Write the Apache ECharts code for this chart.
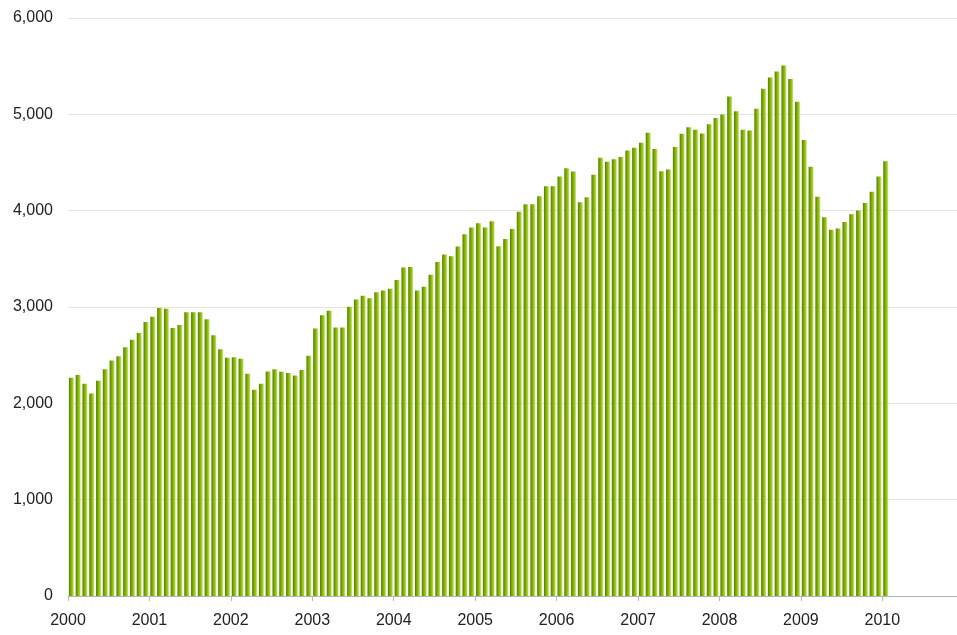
<!DOCTYPE html>
<html>
<head>
<meta charset="utf-8">
<script src="https://cdn.jsdelivr.net/npm/echarts@6/dist/echarts.min.js"></script>
<style>
  html, body { margin: 0; padding: 0; background: #fff; }
  #chart { width: 957px; height: 635px; }
</style>
</head>
<body>
<div id="chart"></div>
<script>
// year labels, one every 12 months starting Jan 2000
const years = ['2000', '2001', '2002', '2003', '2004', '2005', '2006', '2007', '2008', '2009', '2010'];

// monthly values, Jan 2000 .. Jan 2010
const values2000 = [2266, 2293, 2203, 2103, 2234, 2355, 2445, 2490, 2583, 2659, 2731, 2845];
const values2001 = [2900, 2990, 2983, 2783, 2814, 2945, 2945, 2945, 2872, 2707, 2562, 2472];
const values2002 = [2479, 2462, 2307, 2141, 2203, 2331, 2355, 2328, 2314, 2290, 2345, 2493];
const values2003 = [2776, 2914, 2962, 2786, 2786, 3003, 3079, 3117, 3090, 3152, 3172, 3190];
const values2004 = [3279, 3410, 3414, 3172, 3210, 3334, 3466, 3545, 3528, 3628, 3755, 3824];
const values2005 = [3869, 3824, 3890, 3631, 3707, 3810, 3990, 4066, 4066, 4149, 4253, 4253];
const values2006 = [4354, 4441, 4406, 4087, 4139, 4372, 4549, 4507, 4535, 4556, 4625, 4653];
const values2007 = [4705, 4809, 4639, 4410, 4427, 4660, 4799, 4865, 4840, 4800, 4897, 4962];
const values2008 = [4997, 5186, 5031, 4841, 4831, 5059, 5266, 5383, 5445, 5507, 5366, 5131];
const values2009 = [4734, 4455, 4145, 3931, 3803, 3814, 3883, 3962, 4003, 4079, 4197, 4355];
const values2010 = [4514];

const monthly = [].concat(values2000, values2001, values2002, values2003, values2004,
  values2005, values2006, values2007, values2008, values2009, values2010);

// each bar sits in the middle of its month slot
const seriesData = monthly.map((v, i) => [i + 0.5, v]);

const chart = echarts.init(document.getElementById('chart'), null, { renderer: 'canvas' });

const labelFont = 'Liberation Sans, Arial, sans-serif';

const option = {
  animation: false,
  backgroundColor: '#fff',
  grid: { left: 68, right: 0, top: 18, bottom: 39 },
  xAxis: {
    type: 'value',
    min: 0,
    max: 131,
    interval: 12,
    axisLine: { show: true, lineStyle: { color: '#b4b4b4', width: 1 } },
    axisTick: { show: true, length: 5, lineStyle: { color: '#b4b4b4' } },
    splitLine: { show: false },
    axisLabel: {
      showMaxLabel: false,
      margin: 17,
      color: '#222',
      fontSize: 16,
      fontFamily: labelFont,
      formatter: v => years[Math.round(v / 12)] || ''
    }
  },
  yAxis: {
    type: 'value',
    min: 0,
    max: 6000,
    interval: 1000,
    axisLine: { show: false },
    axisTick: { show: false },
    splitLine: { lineStyle: { color: '#e2e2e2', width: 1 } },
    axisLabel: {
      margin: 15,
      color: '#222',
      fontSize: 16,
      fontFamily: labelFont,
      formatter: v => v.toLocaleString('en-US')
    }
  },
  series: [{
    type: 'bar',
    data: seriesData,
    barWidth: 5,
    itemStyle: {
      color: new echarts.graphic.LinearGradient(0, 0, 1, 0, [
        { offset: 0, color: '#527f00' },
        { offset: 0.4, color: '#7cac00' },
        { offset: 0.75, color: '#a2cc22' },
        { offset: 1, color: '#dbeaa8' }
      ])
    }
  }]
};

chart.setOption(option);
</script>
</body>
</html>
